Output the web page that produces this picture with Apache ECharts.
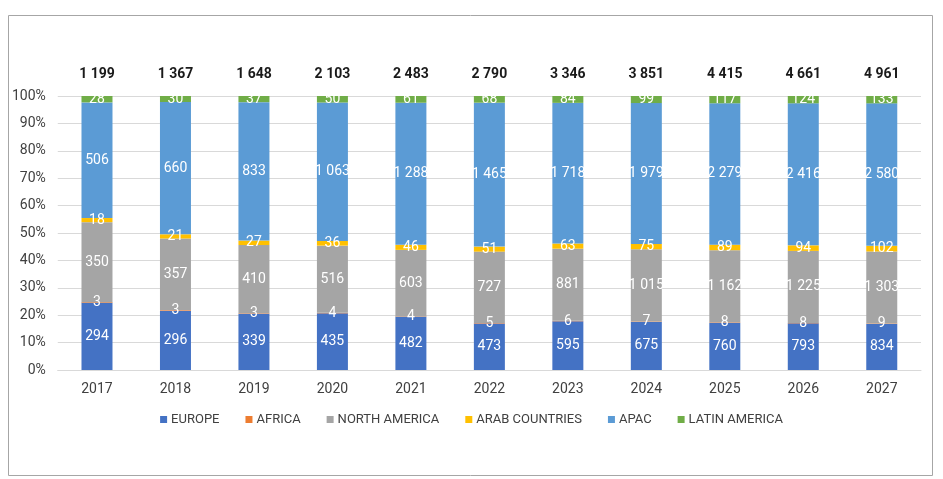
<!DOCTYPE html>
<html>
<head>
<meta charset="utf-8">
<script src="https://cdn.jsdelivr.net/npm/echarts@6/dist/echarts.min.js"></script>
<style>
html,body{margin:0;padding:0;background:#fff;}
#chart{width:943px;height:479px;}
</style>
</head>
<body>
<div id="chart"></div>
<script>
var years = ['2017','2018','2019','2020','2021','2022','2023','2024','2025','2026','2027'];
var europe = [294, 296, 339, 435, 482, 473, 595, 675, 760, 793, 834];
var africa = [3, 3, 3, 4, 4, 5, 6, 7, 8, 8, 9];
var northAmerica = [350, 357, 410, 516, 603, 727, 881, 1015, 1162, 1225, 1303];
var arabCountries = [18, 21, 27, 36, 46, 51, 63, 75, 89, 94, 102];
var apac = [506, 660, 833, 1063, 1288, 1465, 1718, 1979, 2279, 2416, 2580];
var latinAmerica = [28, 30, 37, 50, 61, 68, 84, 99, 117, 124, 133];
var totals = [1199, 1367, 1648, 2103, 2483, 2790, 3346, 3851, 4415, 4661, 4961];
var yTicks = ['0%','10%','20%','30%','40%','50%','60%','70%','80%','90%','100%'];

var seriesDefs = [
  {name:'EUROPE', data:europe, color:'#4472C4'},
  {name:'AFRICA', data:africa, color:'#ED7D31'},
  {name:'NORTH AMERICA', data:northAmerica, color:'#A5A5A5'},
  {name:'ARAB COUNTRIES', data:arabCountries, color:'#FFC000'},
  {name:'APAC', data:apac, color:'#5B9BD5'},
  {name:'LATIN AMERICA', data:latinAmerica, color:'#70AD47'}
];

function fmt(n){ return String(n).replace(/\B(?=(\d{3})+(?!\d))/g, ' '); }

var sums = years.map(function(_, i){
  return seriesDefs.reduce(function(s, d){ return s + d.data[i]; }, 0);
});

var FONT = 'Roboto, "Noto Sans", sans-serif';

var series = seriesDefs.map(function(d){
  return {
    name: d.name,
    type: 'bar',
    stack: 'all',
    barWidth: 31,
    itemStyle: {color: d.color},
    label: {
      show: true,
      position: 'inside',
      color: '#ffffff',
      fontSize: 14,
      fontFamily: FONT,
      formatter: function(p){ return fmt(d.data[p.dataIndex]); }
    },
    data: d.data.map(function(v, i){ return v / sums[i] * 100; })
  };
});

var chart = echarts.init(document.getElementById('chart'), null, {renderer:'canvas'});
chart.setOption({
  animation: false,
  backgroundColor: '#ffffff',
  textStyle: {fontFamily: FONT},
  graphic: [{
    type: 'rect',
    shape: {x: 8.5, y: 15.5, width: 924, height: 460},
    style: {fill: 'none', stroke: '#a6a6a6', lineWidth: 1},
    silent: true
  }],
  grid: {left: 57.75, right: 22, top: 96, bottom: 109},
  legend: {
    top: 408,
    left: 'center',
    itemWidth: 7,
    itemHeight: 7,
    itemGap: 26,
    icon: 'rect',
    textStyle: {color: '#404040', fontSize: 13, fontFamily: FONT, padding: [0,0,0,-1]},
    data: seriesDefs.map(function(d){ return d.name; })
  },
  xAxis: [{
    type: 'category',
    data: years,
    axisLine: {show: true, lineStyle: {color: '#d9d9d9'}},
    axisTick: {show: false},
    axisLabel: {color: '#404040', fontSize: 14, margin: 12, fontFamily: FONT}
  }, {
    type: 'category',
    position: 'top',
    data: totals.map(fmt),
    axisLine: {show: false},
    axisTick: {show: false},
    axisLabel: {color: '#1a1a1a', fontSize: 14, fontWeight: 'bold', margin: 15, fontFamily: FONT}
  }],
  yAxis: {
    type: 'value',
    min: 0, max: 100, interval: 10,
    axisLine: {show: false},
    axisTick: {show: false},
    splitLine: {lineStyle: {color: '#d9d9d9'}},
    axisLabel: {
      color: '#404040', fontSize: 14, margin: 12, fontFamily: FONT,
      formatter: function(v){ return yTicks[Math.round(v/10)]; }
    }
  },
  series: series
});
</script>
</body>
</html>
